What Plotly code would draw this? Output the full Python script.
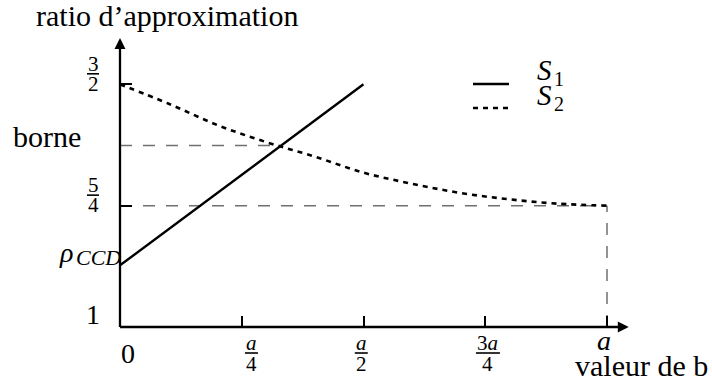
import plotly.graph_objects as go

# ---------------- data ----------------
rho_ccd = 1.127          # value of rho_CCD
borne = 1.374            # value of "borne"
s1_x = [0.0, 0.5]
s1_y = [rho_ccd, 1.5]
s2_x = [0.0, 0.1, 0.2, 0.3, 0.4, 0.5, 0.6, 0.7, 0.8, 0.9, 1.0]
s2_y = [1.5, 1.46, 1.416, 1.381, 1.351, 1.318, 1.295, 1.276, 1.263, 1.254, 1.25]
x_tick_vals = [0.0, 0.25, 0.5, 0.75, 1.0]
x_tick_labels = ["0", "a/4", "a/2", "3a/4", "a"]
y_tick_vals = [1.0, rho_ccd, 1.25, borne, 1.5]
y_tick_labels = ["1", "ρ_CCD", "5/4", "borne", "3/2"]
series_names = ["S_1", "S_2"]
x_title = "valeur de b"
y_title = "ratio d’approximation"

# ---------------- layout geometry ----------------
W, H = 712, 392
L, R, T, B = 120, 83, 38, 65
SX = 487.0     # px per unit of a
SY = 485.4     # px per unit of ratio
PW, PH = W - L - R, H - T - B
X1 = PW / SX
Y1 = 1 + PH / SY
FONT = "Liberation Serif"


def X(v):
    return L + v * SX


def Y(v):
    return H - B - (v - 1) * SY


def px(xp):
    return (xp - L) / PW


def py(yp):
    return (H - B - yp) / PH


annotations = []
shapes = []


def text(t, xp, yp, size, italic=False, xanchor="center"):
    if italic:
        t = "<i>" + t + "</i>"
    annotations.append(dict(text=t, x=px(xp), y=py(yp), xref="paper", yref="paper",
                            xanchor=xanchor, yanchor="middle", showarrow=False,
                            font=dict(family=FONT, size=size, color="black")))


def mathtext(s):
    return s.replace("a", "<i>a</i>")


def frac(label, xc, y_num, y_bar, y_den, barw, size=21):
    num, den = label.split("/")
    text(mathtext(num), xc, y_num, size)
    text(mathtext(den), xc, y_den, size)
    shapes.append(dict(type="line", xref="paper", yref="paper",
                       x0=px(xc - barw / 2), x1=px(xc + barw / 2),
                       y0=py(y_bar), y1=py(y_bar),
                       line=dict(color="black", width=1.6)))


fig = go.Figure()

# dashed guide lines (gray)
gray = dict(color="#707070", width=1.5, dash="12px,11px")
x_cross = (borne - s1_y[0]) / (s1_y[1] - s1_y[0]) * (s1_x[1] - s1_x[0]) + s1_x[0]
fig.add_trace(go.Scatter(x=[0, x_cross], y=[borne, borne], mode="lines", line=gray,
                         hoverinfo="skip", showlegend=False))
fig.add_trace(go.Scatter(x=[0, s2_x[-1]], y=[s2_y[-1], s2_y[-1]], mode="lines", line=gray,
                         hoverinfo="skip", showlegend=False))
fig.add_trace(go.Scatter(x=[s2_x[-1], s2_x[-1]], y=[1, s2_y[-1]], mode="lines", line=gray,
                         hoverinfo="skip", showlegend=False))

# series
fig.add_trace(go.Scatter(x=s1_x, y=s1_y, mode="lines", name="S1",
                         line=dict(color="black", width=2.4), showlegend=False))
fig.add_trace(go.Scatter(x=s2_x, y=s2_y, mode="lines", name="S2",
                         line=dict(color="black", width=2.6, dash="5px,5px", shape="spline"),
                         showlegend=False))

# axes with arrowheads
annotations.append(dict(x=X1 - 0.0006, y=1, ax=-0.003, ay=1, xref="x", yref="y", axref="x", ayref="y",
                        text="", showarrow=True, arrowhead=2, arrowsize=0.95, arrowwidth=2.3,
                        arrowcolor="black", standoff=0, startstandoff=0))
annotations.append(dict(x=0, y=Y1, ax=0, ay=0.997, xref="x", yref="y", axref="x", ayref="y",
                        text="", showarrow=True, arrowhead=2, arrowsize=0.95, arrowwidth=2.3,
                        arrowcolor="black", standoff=0, startstandoff=0))

# x tick labels
x_label_dx = [7.5, 9.7, -2.2, 2.7, -3]
for v, lab, dx in zip(x_tick_vals, x_tick_labels, x_label_dx):
    xc = X(v) + dx
    if "/" in lab:
        frac(lab, xc, Y(1) + 16, Y(1) + 26, Y(1) + 37.5, 13 if lab.startswith("a") else 24)
    elif lab == "0":
        text(lab, xc, Y(1) + 26, 28)
    else:
        text(lab, xc, Y(1) + 13.5, 28, italic=True)

# y tick labels
for v, lab in zip(y_tick_vals, y_tick_labels):
    yv = Y(v)
    if "/" in lab:
        frac(lab, 93, yv - 20.5, yv - 10.5, yv - 0.5, 12)
    elif lab == "1":
        text(lab, 92.5, yv - 12.5, 28)
    elif lab == "borne":
        text(lab, 47, yv - 9, 30)
    else:
        base, sub = lab.split("_")
        text(base, 65.5, yv - 12.5, 28, italic=True)
        text(sub, 74, yv - 7.5, 22, italic=True, xanchor="left")

# axis titles
text(y_title, 167, 16, 30)
text(x_title, 641, 365, 30)

# legend (manual)
leg_y = [84, 108]
leg_dash = ["solid", "5px,5px"]
leg_text_y = [70, 95]
for name, ly, dsh, ty in zip(series_names, leg_y, leg_dash, leg_text_y):
    shapes.append(dict(type="line", xref="paper", yref="paper",
                       x0=px(473), x1=px(509), y0=py(ly), y1=py(ly),
                       line=dict(color="black", width=2.5, dash=dsh)))
    letter, idx = name.split("_")
    text(letter, 544.5, ty, 29, italic=True)
    text(idx, 558.5, ty + 8.5, 20)

fig.update_layout(
    width=W, height=H,
    margin=dict(l=L, r=R, t=T, b=B, pad=0),
    paper_bgcolor="white", plot_bgcolor="white",
    showlegend=False,
    xaxis=dict(range=[0, X1], showgrid=False, zeroline=False, showline=False,
               ticks="inside", ticklen=11, tickwidth=2.3, tickcolor="black",
               tickvals=x_tick_vals[1:], showticklabels=False, fixedrange=True),
    yaxis=dict(range=[1, Y1], showgrid=False, zeroline=False, showline=False,
               ticks="inside", ticklen=12, tickwidth=2.3, tickcolor="black",
               tickvals=[1.25, 1.5], showticklabels=False, fixedrange=True),
    annotations=annotations,
    shapes=shapes,
    font=dict(family=FONT, color="black"),
)

fig.write_html("out.html", config={"displayModeBar": False},
               post_script="document.body.style.margin='0';document.body.style.overflow='hidden';")
